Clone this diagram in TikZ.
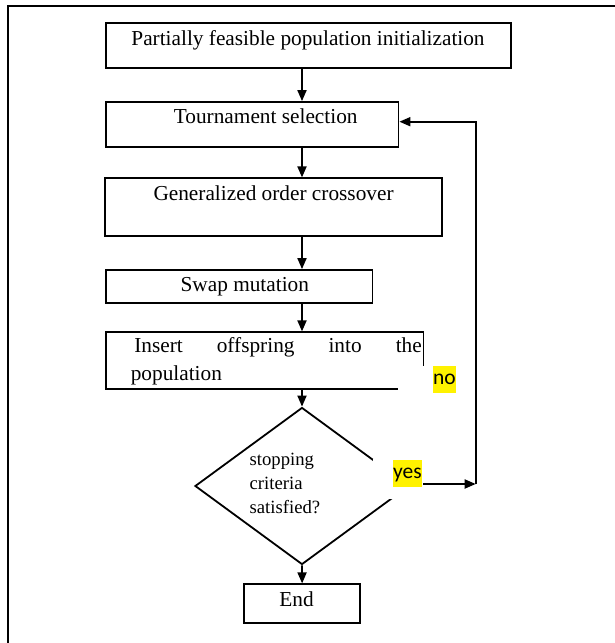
\documentclass[tikz,border=0pt]{standalone}
\usepackage{fontspec}
\setmainfont{Liberation Serif}
\newfontfamily\calib{Carlito}
\usetikzlibrary{shapes.geometric,arrows.meta}
\begin{document}
\begin{tikzpicture}[x=1pt,y=-1pt,
  box/.style={draw,line width=1.8pt,inner sep=0pt,rectangle},
  txt/.style={inner sep=0pt,font=\fontsize{21.3}{25}\selectfont},
  dtxt/.style={inner sep=0pt,anchor=base west,font=\fontsize{18.7}{22}\selectfont},
  arr/.style={line width=1.8pt,-{Triangle[length=11pt,width=9pt]}},
  mask/.style={fill=white,draw=none,inner sep=0pt},
  hl/.style={fill=yellow,inner sep=0pt,font=\calib\fontsize{21.5}{24}\selectfont,text height=15pt,text depth=5pt}]
\useasboundingbox (0,0) rectangle (615,643);
% frame
\draw[line width=2.2pt] (7.8,643) -- (7.8,5.7) -- (615,5.7);
% boxes
\node[box,minimum width=404.6pt,minimum height=45pt] (b1) at (308.3,45.8) {};
\node[box,minimum width=292.5pt,minimum height=44.7pt] (b2) at (252.25,124.35) {};
\node[box,minimum width=337pt,minimum height=57.7pt] (b3) at (273.5,207.15) {};
\node[box,minimum width=266.5pt,minimum height=33.3pt] (b4) at (239.25,286.65) {};
\node[box,minimum width=317.5pt,minimum height=56.4pt] (b5) at (264.75,360.5) {};
\node[draw,line width=1.8pt,shape=diamond,inner sep=0pt,minimum width=214pt,minimum height=157pt] (d) at (302,486) {};
\node[box,minimum width=115.7pt,minimum height=39pt] (b6) at (302.15,603.8) {};
% texts
\node[txt,anchor=base] (t1) at (308,45.7) {Partially feasible population initialization};
\node[txt,anchor=base west] (t2) at (173.7,123.3) {Tournament selection};
\node[txt,anchor=base west] (t3) at (153.3,200) {Generalized order crossover};
\node[txt,anchor=base west] (t4) at (180.4,291.7) {Swap mutation};
\node[txt,anchor=base west] (t5a) at (134.1,352.7) {\makebox[287.5pt][s]{Insert\hfill offspring\hfill into\hfill the}};
\node[txt,anchor=base west] (t5b) at (130.6,380) {population};
\node[dtxt] (d1) at (249.4,465) {stopping};
\node[dtxt] (d2) at (249.4,489) {criteria};
\node[dtxt] (d3) at (249.4,513.3) {satisfied?};
\node[txt,anchor=base west] (t6) at (279.2,606.7) {End};
% label boxes
\node[mask,minimum width=59pt,minimum height=34pt] (mno) at (427.5,383) {};
\node[hl,minimum width=23pt,minimum height=26.7pt] (no) at (444.5,379.35) {no};
\node[mask,minimum width=50pt,minimum height=40pt] (myes) at (398,479) {};
\node[hl,minimum width=29pt,minimum height=26.7pt] (yes) at (407.5,473.35) {yes};
% connectors
\coordinate (axis) at (302,0);
\coordinate (fbot) at (475.7,484);
\coordinate (ftop) at (475.7,121.7);
\draw[arr] (b1.south -| axis) -- (b2.north -| axis);
\draw[arr] (b2.south -| axis) -- (b3.north -| axis);
\draw[arr] (b3.south -| axis) -- (b4.north -| axis);
\draw[arr] (b4.south -| axis) -- (b5.north -| axis);
\draw[arr] (b5.south -| axis) -- (d.north);
\draw[arr] (d.south) -- (b6.north);
\draw[arr] (myes.east |- fbot) -- (fbot);
\draw[arr] (fbot) -- (ftop) -- (b2.east |- ftop);
\end{tikzpicture}
\end{document}
